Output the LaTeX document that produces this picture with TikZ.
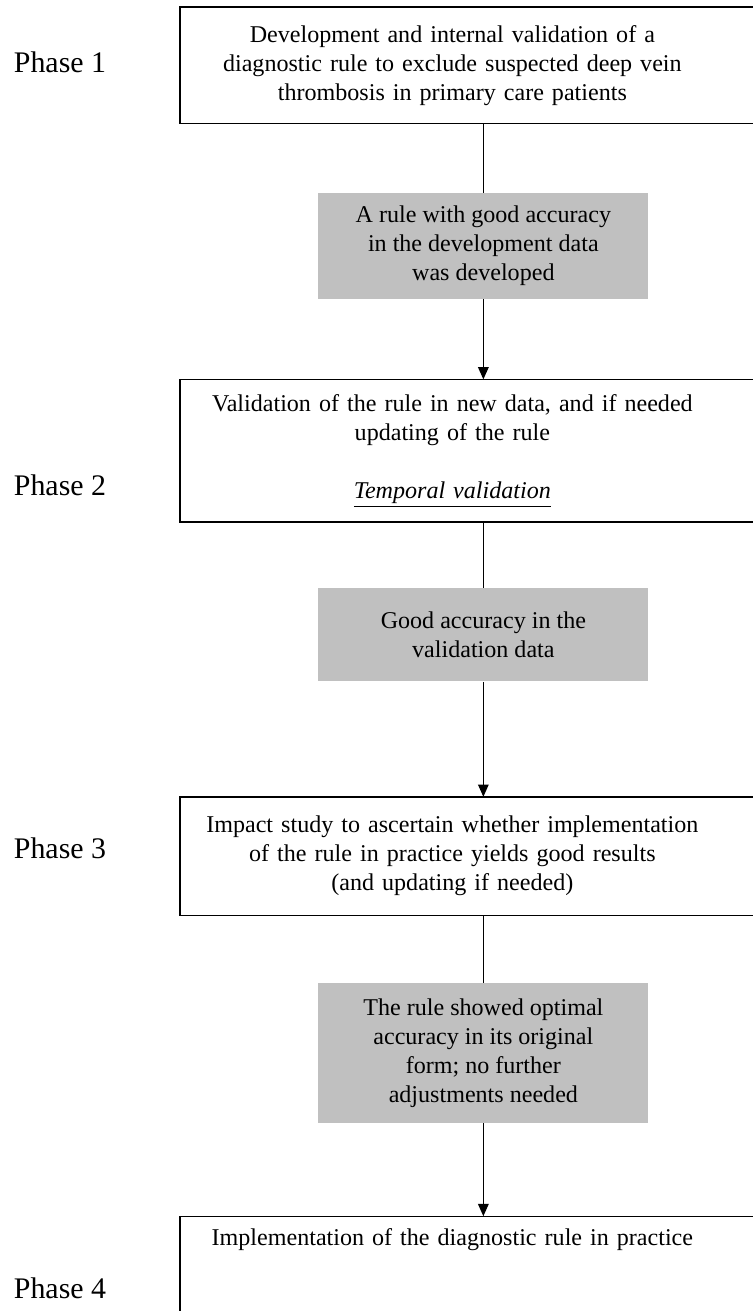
\documentclass[tikz,border=0pt]{standalone}
\usepackage{fontspec}
\setmainfont{Liberation Serif}
\usepackage{xcolor}
\usepackage{tikz}
\usetikzlibrary{arrows.meta, positioning}

\definecolor{resultgray}{RGB}{192,192,192}

\begin{document}
\begin{tikzpicture}[node distance=1.4cm, >={Triangle[width=6pt,length=7pt]}, font=\fontsize{13.7}{16.5}\selectfont]
    \tikzstyle{phasebox} = [rectangle, text width=10.68cm, inner xsep=0.1cm, align=center]
    \tikzstyle{frame} = [draw, line width=0.8pt]
    \tikzstyle{result} = [rectangle, fill=resultgray, minimum width=6.6cm, align=center]
    \tikzstyle{phase} = [font=\fontsize{17}{20}\selectfont]
    \tikzstyle{line} = [line width=0.8pt]

    \useasboundingbox (0,0) rectangle (15.04,-26.22);

    \node [phasebox, anchor=north west, minimum height=2.32cm] (dev) at (3.6,-0.14) {Development and internal validation of a\\diagnostic rule to exclude suspected deep vein\\thrombosis in primary care patients};
    \node [result, minimum height=2.12cm, below=1.38cm of dev, xshift=0.62cm] (devok) {A rule with good accuracy\\in the development data\\was developed};
    \node [phasebox, minimum height=2.84cm, below=1.6cm of devok, xshift=-0.62cm] (valid) {Validation of the rule in new data, and if needed\\updating of the rule\\[16.5pt]\underline{\textit{Temporal validation}}};
    \node [result, minimum height=1.86cm, below=1.32cm of valid, xshift=0.62cm] (validok) {Good accuracy in the\\validation data};
    \node [phasebox, minimum height=2.36cm, below=2.3cm of validok, xshift=-0.62cm] (impact) {Impact study to ascertain whether implementation\\of the rule in practice yields good results\\(and updating if needed)};
    \node [result, minimum height=2.8cm, below=1.34cm of impact, xshift=0.62cm] (impactok) {The rule showed optimal\\accuracy in its original\\form; no further\\adjustments needed};
    \node [phasebox, minimum height=0.92cm, below=1.86cm of impactok, xshift=-0.62cm] (practice) {Implementation of the diagnostic rule in practice};

    % phase labels
    \node [phase] (ph1) at (1.2,-1.24) {Phase 1};
    \node [phase] (ph2) at (1.2,-9.7) {Phase 2};
    \node [phase] (ph3) at (1.2,-16.96) {Phase 3};
    \node [phase] (ph4) at (1.2,-25.76) {Phase 4};

    % frames run past the right edge
    \draw [frame] (dev.north west) rectangle ([xshift=1cm]dev.south east);
    \draw [frame] (valid.north west) rectangle ([xshift=1cm]valid.south east);
    \draw [frame] (impact.north west) rectangle ([xshift=1cm]impact.south east);
    \draw [frame] (practice.north west) rectangle ([xshift=1cm, yshift=-2cm]practice.south east);

    \draw [line] (dev.south -| devok.north) -- (devok.north);
    \draw [line, ->] (devok.south) -- (devok.south |- valid.north);
    \draw [line] (valid.south -| validok.north) -- (validok.north);
    \draw [line, ->] (validok.south) -- (validok.south |- impact.north);
    \draw [line] (impact.south -| impactok.north) -- (impactok.north);
    \draw [line, ->] (impactok.south) -- (impactok.south |- practice.north);
\end{tikzpicture}
\end{document}
